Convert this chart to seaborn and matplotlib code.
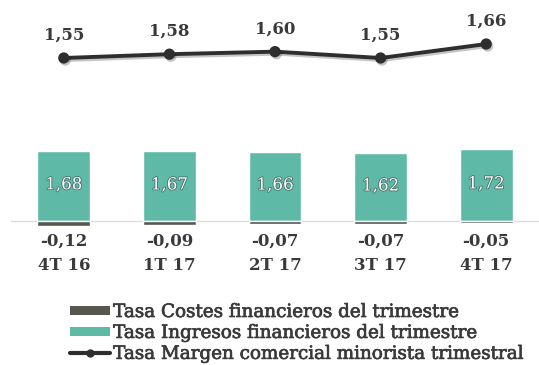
import matplotlib
matplotlib.use("Agg")
import matplotlib.pyplot as plt
import matplotlib.transforms as mtransforms
import matplotlib.patheffects as pe
from matplotlib.patches import Patch
from matplotlib.lines import Line2D
import seaborn as sns
import pandas as pd

categories = ["4T 16", "1T 17", "2T 17", "3T 17", "4T 17"]
ingresos = [1.68, 1.67, 1.66, 1.62, 1.72]
costes = [-0.12, -0.09, -0.07, -0.07, -0.05]
margen = [1.55, 1.58, 1.60, 1.55, 1.66]

def fmt(v):
    return f"{v:.2f}".replace(".", ",")

sns.set_theme(style="white")
plt.rcParams['font.family'] = ['DejaVu Serif']

df = pd.DataFrame({"cat": categories, "ing": ingresos, "cost": costes, "marg": margen})

fig = plt.figure(figsize=(5.39, 3.65), dpi=100)
ax = fig.add_axes([11/539, 0, 528/539, 1])

teal = "#5fb9a7"
dark = "#57574f"
txt = "#3a3a3a"

sns.barplot(data=df, x="cat", y="ing", color=teal, width=0.5, saturation=1, ax=ax)
sns.barplot(data=df, x="cat", y="cost", color=dark, width=0.5, saturation=1, ax=ax)
ax.axhline(0, color="#dddddd", lw=1, zorder=0)
ax.set_xlim(-0.5, 4.5)
ax.set_ylim(-3.453, 5.30)
ax.axis("off")

ax2 = ax.twinx()
sns.pointplot(data=df, x="cat", y="marg", color="#2e2e2e", markers="o",
              linewidth=2.8, markersize=6, ax=ax2, zorder=5)
ax2.set_xlim(-0.5, 4.5)
ax2.set_ylim(1.55 - 307/127, 1.55 + 58/127)
ax2.axis("off")
for ln in ax2.lines:
    ln.set_path_effects([pe.SimpleLineShadow(offset=(1, -1.5), alpha=0.25), pe.Normal()])

for i, v in enumerate(margen):
    ax2.annotate(fmt(v), (i, v), xytext=(0, 16.5), textcoords="offset points",
                 ha="center", va="center", fontsize=12, fontweight="bold", color=txt)

for i, v in enumerate(ingresos):
    ax.text(i, v / 2 + 0.03, fmt(v), ha="center", va="center", fontsize=12,
            color="white",
            path_effects=[pe.withStroke(linewidth=1.2, foreground="#4a6e68")])

tr = mtransforms.blended_transform_factory(ax.transData, fig.transFigure)
for i, v in enumerate(costes):
    ax.text(i, 1 - 241/365, fmt(v), transform=tr, ha="center", va="center",
            fontsize=12, fontweight="bold", color=txt)
    ax.text(i, 1 - 266/365, categories[i], transform=tr, ha="center", va="center",
            fontsize=12, fontweight="bold", color=txt)

handles = [
    Patch(facecolor=dark, edgecolor="none"),
    Patch(facecolor=teal, edgecolor="none"),
    Line2D([0], [0], color="#2e2e2e", lw=3, marker="o", markersize=5),
]
labels = ["Tasa Costes financieros del trimestre",
          "Tasa Ingresos financieros del trimestre",
          "Tasa Margen comercial minorista trimestral"]
leg = fig.legend(handles, labels, loc="upper left", bbox_to_anchor=(70/539, 1 - 303/365),
                 frameon=False, fontsize=13.2, handlelength=2.2, handleheight=0.33,
                 handletextpad=0.15, labelspacing=0.16, borderpad=0, borderaxespad=0)
for t in leg.get_texts():
    t.set_color(txt)
    t.set_path_effects([pe.withStroke(linewidth=0.5, foreground=txt)])

fig.savefig("out.png", dpi=100)
